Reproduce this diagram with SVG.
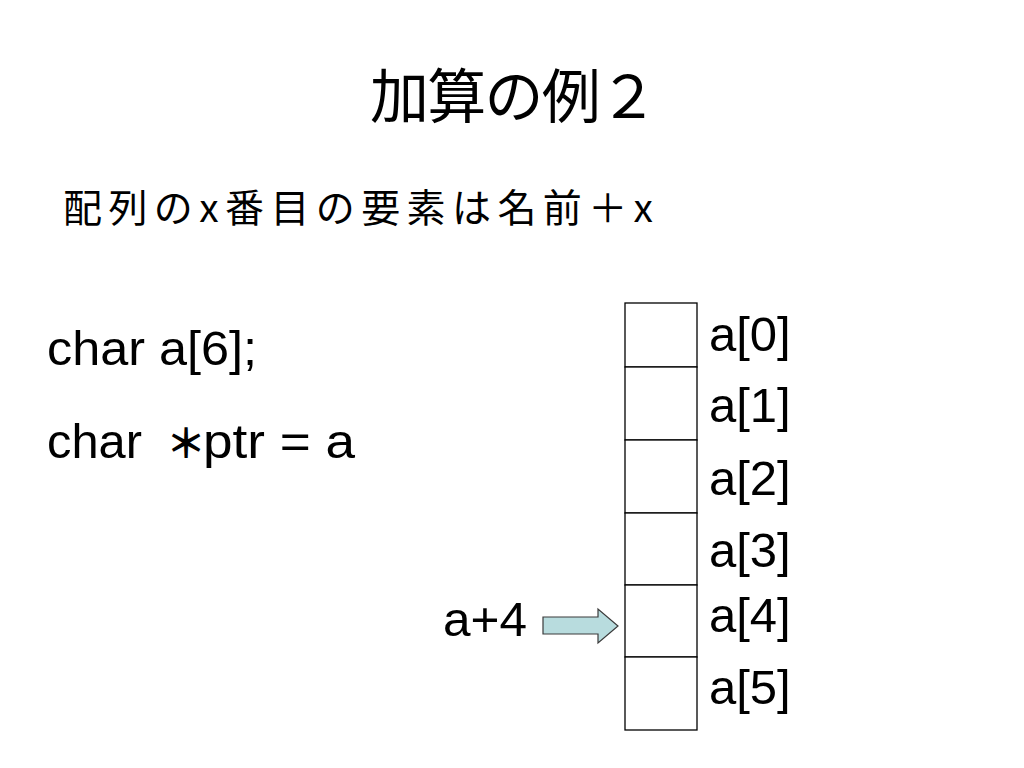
<svg xmlns="http://www.w3.org/2000/svg" width="1024" height="768" viewBox="0 0 1024 768">
<style>
.jp{font-family:"Noto Sans CJK JP","Liberation Sans",sans-serif;fill:#000}
.lt{font-family:"Liberation Sans",Arial,sans-serif;fill:#000}
.cell{fill:#fff;stroke:#000;stroke-width:1.3}
.arrow{fill:#B8DCDE;stroke:#3a3a3a;stroke-width:1.2}
</style>
<rect width="1024" height="768" fill="#fff"/>
<g id="title"><text class="jp" x="370" y="118" font-size="59" textLength="288" lengthAdjust="spacing">加算の例２</text></g>
<g id="subtitle"><text class="jp" x="63" y="222" font-size="39" textLength="590" lengthAdjust="spacing">配列のx番目の要素は名前＋x</text></g>
<g id="code">
<text class="lt" x="47" y="365" font-size="49" textLength="210" lengthAdjust="spacingAndGlyphs">char a[6];</text>
<text class="lt" y="458" font-size="49"><tspan x="47" textLength="95" lengthAdjust="spacingAndGlyphs">char</tspan><tspan class="jp" x="166" font-size="40" font-weight="bold">＊</tspan><tspan x="203" textLength="152" lengthAdjust="spacingAndGlyphs">ptr = a</tspan></text>
</g>
<g id="cell0"><rect class="cell" x="625" y="303" width="72" height="64"/><text class="lt" x="709" y="351" font-size="49">a[0]</text></g>
<g id="cell1"><rect class="cell" x="625" y="367" width="72" height="73"/><text class="lt" x="709" y="422" font-size="49">a[1]</text></g>
<g id="cell2"><rect class="cell" x="625" y="440" width="72" height="73"/><text class="lt" x="709" y="495" font-size="49">a[2]</text></g>
<g id="cell3"><rect class="cell" x="625" y="513" width="72" height="72"/><text class="lt" x="709" y="567" font-size="49">a[3]</text></g>
<g id="cell4"><rect class="cell" x="625" y="585" width="72" height="72"/><text class="lt" x="709" y="632" font-size="49">a[4]</text></g>
<g id="cell5"><rect class="cell" x="625" y="657" width="72" height="73"/><text class="lt" x="709" y="704" font-size="49">a[5]</text></g>
<g id="pointer"><text class="lt" x="443" y="636" font-size="49" textLength="84" lengthAdjust="spacingAndGlyphs">a+4</text></g>
<g id="connectors">
<polygon class="arrow" points="543,617 598,617 598,609 618,626 598,643 598,634 543,634"/>
</g>
</svg>
